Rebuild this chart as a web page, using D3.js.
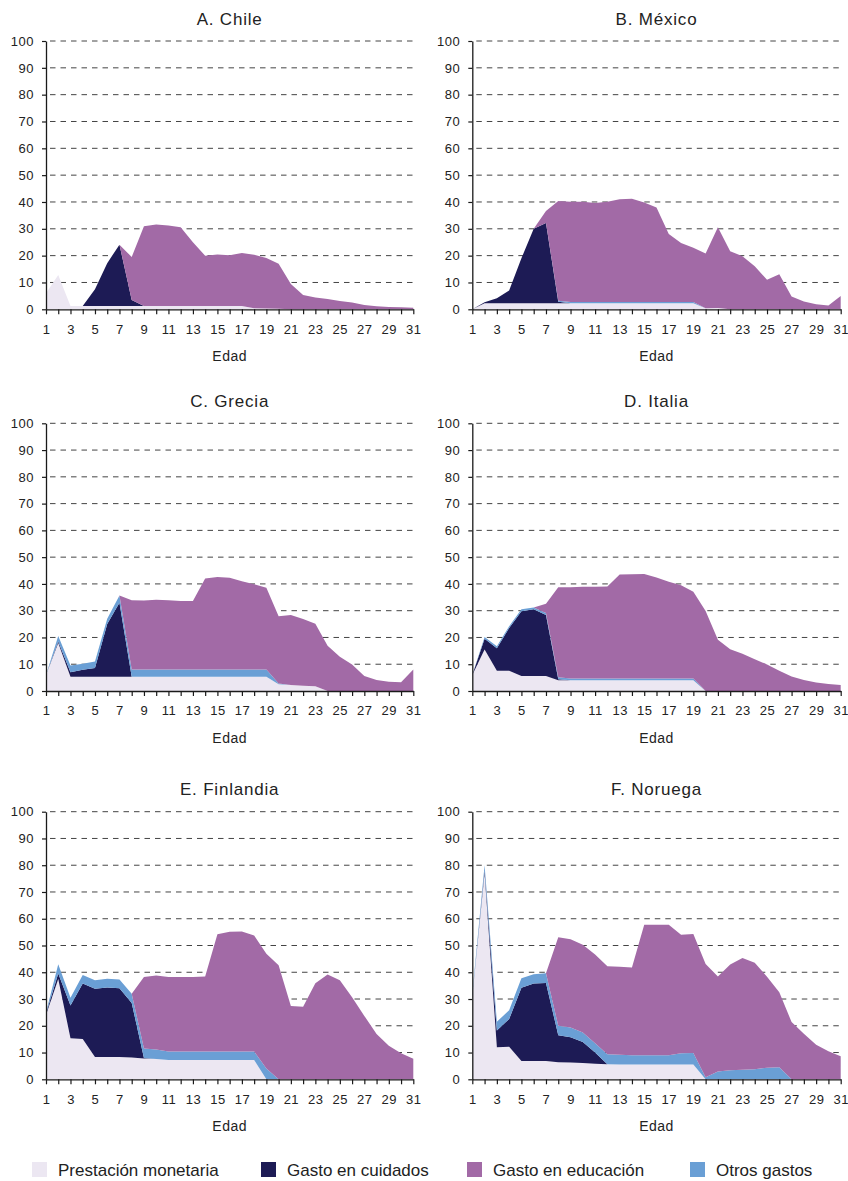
<!DOCTYPE html>
<html lang="es">
<head>
<meta charset="utf-8">
<script src="https://cdn.jsdelivr.net/npm/d3@7"></script>
<style>
  html, body { margin: 0; padding: 0; background: #fff; }
  svg { display: block; font-family: "Liberation Sans", Arial, sans-serif; }
</style>
</head>
<body>
<svg id="chart" width="848" height="1181"></svg>
<script>
// Edad (años) en el eje X
const ages = d3.range(1, 32);
const yTicks = d3.range(0, 101, 10);

// stacking order, bottom to top
const seriesKeys = ["mon", "cuid", "otros", "edu"];
const seriesColors = { mon: "#ece7f2", cuid: "#1d1b55", otros: "#6a9fd5", edu: "#a26aa6" };
const legendKeys = ["mon", "cuid", "edu", "otros"];
const legendLabels = ["Prestación monetaria", "Gasto en cuidados", "Gasto en educación", "Otros gastos"];

// A. Chile
const monChile   = [6, 12.8, 1.2, 1.2, 1.2, 1.2, 1.2, 1.2, 1.2, 1.2, 1.2, 1.2, 1.2, 1.2, 1.2, 1.2, 1.2, 0.4, 0.3, 0.2, 0, 0, 0, 0, 0, 0, 0, 0, 0, 0, 0];
const cuidChile  = [0, 0, 0, 0, 6.3, 16, 22.9, 2.3, 0, 0, 0, 0, 0, 0, 0, 0, 0, 0, 0, 0, 0, 0, 0, 0, 0, 0, 0, 0, 0, 0, 0];
const otrosChile = [0, 0, 0, 0, 0, 0, 0, 0, 0, 0, 0, 0, 0, 0, 0, 0, 0, 0, 0, 0, 0, 0, 0, 0, 0, 0, 0, 0, 0, 0, 0];
const eduChile   = [0, 0, 0, 0, 0, 0, 0, 16, 29.8, 30.4, 30, 29.4, 23.8, 18.8, 19.2, 18.9, 19.8, 19.9, 18.8, 16.8, 9.4, 5.3, 4.4, 3.8, 3.1, 2.5, 1.6, 1.1, 0.9, 0.8, 0.6];

// B. México
const monMexico   = [0, 2.3, 2.3, 2.3, 2.3, 2.3, 2.3, 2.3, 2.3, 2.3, 2.3, 2.3, 2.3, 2.3, 2.3, 2.3, 2.3, 2.3, 2.3, 0.4, 0.5, 0, 0, 0, 0, 0, 0, 0, 0, 0, 0];
const cuidMexico  = [0, 0.3, 1.8, 4.7, 16.7, 27.7, 29.9, 0.5, 0, 0, 0, 0, 0, 0, 0, 0, 0, 0, 0, 0, 0, 0, 0, 0, 0, 0, 0, 0, 0, 0, 0];
const otrosMexico = [0, 0, 0, 0, 0, 0, 0, 0.4, 0.4, 0.4, 0.4, 0.4, 0.4, 0.4, 0.4, 0.4, 0.4, 0.4, 0.4, 0, 0, 0, 0, 0, 0, 0, 0, 0, 0, 0, 0];
const eduMexico   = [0, 0, 0, 0, 0, 0, 4.4, 37.2, 37.4, 37.4, 36.9, 37.4, 38.3, 38.5, 37.1, 35.2, 25.4, 22, 20.2, 20.4, 30.1, 21.6, 19.8, 16, 11, 13.1, 4.8, 2.9, 1.9, 1.4, 5];

// C. Grecia
const monGrecia   = [6, 17.9, 5.3, 5.3, 5.3, 5.3, 5.3, 5.3, 5.3, 5.3, 5.3, 5.3, 5.3, 5.3, 5.3, 5.3, 5.3, 5.3, 5.3, 2.5, 2.2, 2, 1.8, 0, 0, 0, 0, 0, 0, 0, 0];
const cuidGrecia  = [0, 0.6, 1.7, 2.6, 3.3, 19.7, 27.7, 0, 0, 0, 0, 0, 0, 0, 0, 0, 0, 0, 0, 0, 0, 0, 0, 0, 0, 0, 0, 0, 0, 0, 0];
const otrosGrecia = [0, 2, 2.5, 2.3, 2.4, 2, 2.7, 2.7, 2.7, 2.7, 2.7, 2.7, 2.7, 2.7, 2.7, 2.7, 2.7, 2.7, 2.7, 0.3, 0, 0, 0, 0, 0, 0, 0, 0, 0, 0, 0];
const eduGrecia   = [0, 0, 0, 0, 0, 0, 0, 25.9, 25.8, 26.1, 25.9, 25.6, 25.6, 34, 34.6, 34.3, 33, 31.9, 30.6, 25.1, 26.2, 24.9, 23.3, 16.9, 12.8, 9.9, 5.6, 4.1, 3.5, 3.3, 8];

// D. Italia
const monItalia   = [6, 15.5, 7.6, 7.6, 5.6, 5.6, 5.6, 4, 4, 4, 4, 4, 4, 4, 4, 4, 4, 4, 4, 0, 0, 0, 0, 0, 0, 0, 0, 0, 0, 0, 0];
const cuidItalia  = [0, 4, 8.4, 15.9, 24.2, 24.9, 22.8, 0.4, 0, 0, 0, 0, 0, 0, 0, 0, 0, 0, 0, 0, 0, 0, 0, 0, 0, 0, 0, 0, 0, 0, 0];
const otrosItalia = [0, 0.7, 0.7, 0.7, 0.7, 0.7, 0.7, 0.7, 0.7, 0.7, 0.7, 0.7, 0.7, 0.7, 0.7, 0.7, 0.7, 0.7, 0.7, 0, 0, 0, 0, 0, 0, 0, 0, 0, 0, 0, 0];
const eduItalia   = [0, 0, 0, 0, 0, 0, 3.5, 33.7, 34.1, 34.2, 34.2, 34.3, 38.8, 38.9, 39, 37.7, 36.1, 34.8, 32.4, 29.9, 19.1, 15.6, 13.9, 11.9, 9.9, 7.6, 5.4, 4.1, 3.2, 2.6, 2.2];

// E. Finlandia
const monFinlandia   = [24, 37.5, 15.3, 15.1, 8.3, 8.3, 8.3, 8.1, 7.8, 7.6, 7.2, 7.2, 7.2, 7.2, 7.2, 7.2, 7.2, 7.2, 0, 0, 0, 0, 0, 0, 0, 0, 0, 0, 0, 0, 0];
const cuidFinlandia  = [0.5, 2, 12.3, 20.7, 25.5, 26, 25.7, 20.4, 0.2, 0, 0, 0, 0, 0, 0, 0, 0, 0, 0, 0, 0, 0, 0, 0, 0, 0, 0, 0, 0, 0, 0];
const otrosFinlandia = [0.5, 3.5, 2.9, 3.2, 3.2, 3.3, 3.3, 3.5, 3.5, 3.5, 3.2, 3.2, 3.2, 3.2, 3.2, 3.2, 3.2, 3.2, 4, 0, 0, 0, 0, 0, 0, 0, 0, 0, 0, 0, 0];
const eduFinlandia   = [0, 0, 0, 0, 0, 0, 0, 0, 26.7, 27.7, 27.8, 27.8, 27.8, 28, 43.8, 44.7, 44.8, 43.3, 42.9, 42.6, 27.4, 27.1, 35.9, 39.2, 37, 30.7, 23.7, 16.9, 12.5, 9.7, 7.7];

// F. Noruega
const monNoruega   = [31, 77, 12, 12.2, 6.8, 6.8, 6.8, 6.4, 6.3, 6.1, 5.8, 5.6, 5.5, 5.5, 5.5, 5.5, 5.5, 5.5, 5.5, 0, 0, 0, 0, 0, 0, 0, 0, 0, 0, 0, 0];
const cuidNoruega  = [0, 1, 6.2, 10.3, 27.4, 29, 29.2, 10.1, 9.4, 7.8, 4.2, 0, 0, 0, 0, 0, 0, 0, 0, 0, 0, 0, 0, 0, 0, 0, 0, 0, 0, 0, 0];
const otrosNoruega = [1, 2, 3.3, 3.3, 3.6, 3.5, 3.6, 3.5, 3.7, 3.6, 3.5, 3.8, 3.7, 3.5, 3.5, 3.5, 3.5, 4.2, 4.3, 0.8, 2.9, 3.4, 3.6, 3.8, 4.3, 4.5, 0, 0, 0, 0, 0];
const eduNoruega   = [0, 0, 0, 0, 0, 0, 0, 33.1, 32.9, 32.8, 33.1, 32.8, 32.9, 32.8, 48.8, 48.8, 48.8, 44.3, 44.5, 42.3, 35.5, 39.5, 41.7, 39.8, 34, 28, 21.4, 17, 12.9, 10.5, 8.6];

const panelTitles = ["A. Chile", "B. México", "C. Grecia", "D. Italia", "E. Finlandia", "F. Noruega"];
const panelSeries = [
  [monChile, cuidChile, otrosChile, eduChile],
  [monMexico, cuidMexico, otrosMexico, eduMexico],
  [monGrecia, cuidGrecia, otrosGrecia, eduGrecia],
  [monItalia, cuidItalia, otrosItalia, eduItalia],
  [monFinlandia, cuidFinlandia, otrosFinlandia, eduFinlandia],
  [monNoruega, cuidNoruega, otrosNoruega, eduNoruega]
];

// Plot frames: columns (x of age 1 and age 31) and rows (y of 100 and 0)
const cols = [[46, 413.3], [472.3, 840.7]];
const rows = [[41, 309.3], [423.3, 691], [811.7, 1079.3]];

const svg = d3.select("#chart");
const textColor = "#222";

panelTitles.forEach((title, i) => {
  const [xl, xr] = cols[i % 2];
  const [yt, yb] = rows[Math.floor(i / 2)];
  const x = d3.scaleLinear().domain([1, 31]).range([xl, xr]);
  const y = d3.scaleLinear().domain([0, 100]).range([yb, yt]);

  const [mon, cuid, otros, edu] = panelSeries[i];
  const table = ages.map((a, k) => ({ age: a, mon: mon[k], cuid: cuid[k], otros: otros[k], edu: edu[k] }));
  const stacked = d3.stack().keys(seriesKeys)(table);

  const g = svg.append("g");

  // dashed gridlines
  g.append("g").selectAll("line")
    .data(yTicks.filter(t => t > 0))
    .join("line")
    .attr("x1", xl + 4).attr("x2", xr + 2)
    .attr("y1", d => y(d)).attr("y2", d => y(d))
    .attr("stroke", "#444").attr("stroke-width", 1)
    .attr("stroke-dasharray", "5.5,5");

  // stacked areas
  const area = d3.area()
    .x(d => x(d.data.age))
    .y0(d => y(d[0]))
    .y1(d => y(d[1]));

  g.append("g").selectAll("path")
    .data(stacked)
    .join("path")
    .attr("fill", d => seriesColors[d.key])
    .attr("d", area);

  // axes
  const xAxis = d3.axisBottom(x)
    .tickValues(ages)
    .tickFormat(d => (d % 2 === 1 ? d : ""))
    .tickSize(5).tickSizeOuter(0).tickPadding(7);
  const gx = g.append("g").attr("transform", `translate(0,${yb})`).call(xAxis);

  const yAxis = d3.axisLeft(y)
    .tickValues(yTicks)
    .tickSize(4).tickSizeOuter(0).tickPadding(8);
  const gy = g.append("g").attr("transform", `translate(${xl},0)`).call(yAxis);

  [gx, gy].forEach(ax => {
    ax.select(".domain").attr("stroke", "#1a1a1a").attr("stroke-width", 1.3);
    ax.selectAll(".tick line").attr("stroke", "#1a1a1a").attr("stroke-width", 1.2);
    ax.selectAll("text")
      .attr("fill", textColor)
      .style("font-size", "13px")
      .style("letter-spacing", "0.5px")
      .style("font-family", "'Liberation Sans', Arial, sans-serif");
  });
  gx.selectAll("text").attr("dy", "0.95em");

  // title
  g.append("text")
    .attr("x", (xl + xr) / 2).attr("y", yt - 16.5)
    .attr("text-anchor", "middle")
    .attr("fill", textColor)
    .style("font-size", "17px")
    .style("letter-spacing", "0.8px")
    .text(title);

  // x-axis label
  g.append("text")
    .attr("x", (xl + xr) / 2).attr("y", yb + 52)
    .attr("text-anchor", "middle")
    .attr("fill", textColor)
    .style("font-size", "14px")
    .style("letter-spacing", "0.5px")
    .text("Edad");
});

// legend
const legendX = [32, 261, 467, 690];
const legend = svg.append("g");
legendKeys.forEach((key, i) => {
  const item = legend.append("g").attr("transform", `translate(${legendX[i]},1162)`);
  item.append("rect").attr("width", 15).attr("height", 15).attr("fill", seriesColors[key]);
  item.append("text")
    .attr("x", 26).attr("y", 13.5)
    .attr("fill", textColor)
    .style("font-size", "17px")
    .style("letter-spacing", "0px")
    .text(legendLabels[i]);
});
</script>
</body>
</html>
